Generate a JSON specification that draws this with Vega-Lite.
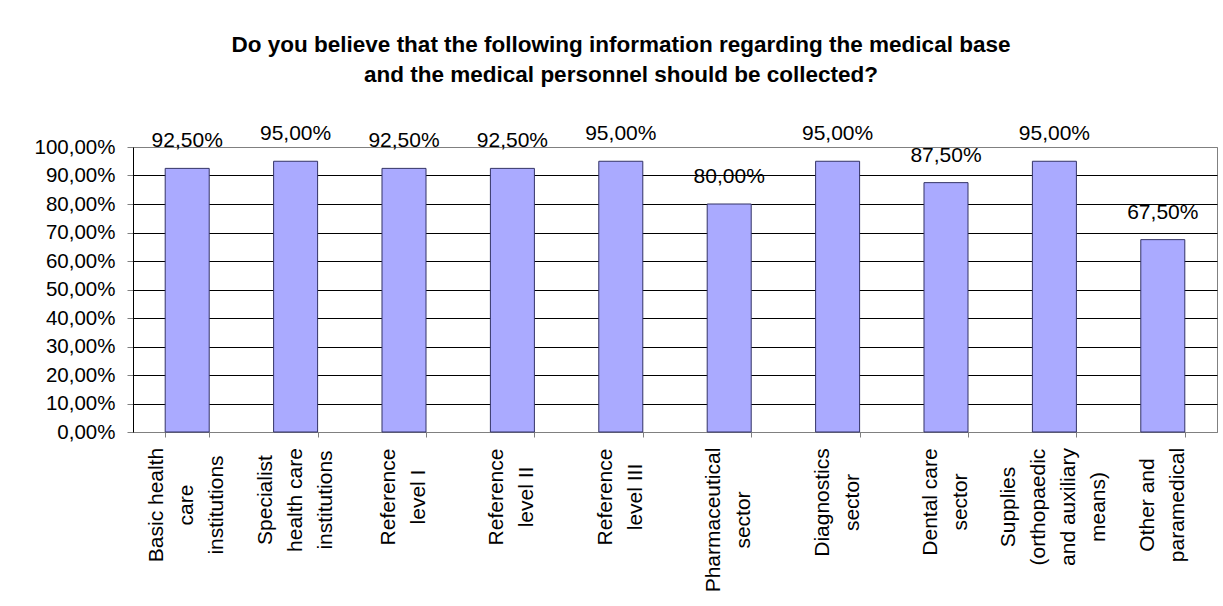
{
  "$schema": "https://vega.github.io/schema/vega-lite/v6.json",
  "width": 1084,
  "height": 285,
  "autosize": {"type": "none"},
  "padding": {"left": 133, "top": 147, "right": 6, "bottom": 174},
  "background": "white",
  "title": {
    "text": ["Do you believe that the following information regarding the medical base", "and the medical personnel should be collected?"],
    "font": "Liberation Sans",
    "fontSize": 22.5,
    "fontWeight": "bold",
    "color": "black",
    "anchor": "middle",
    "lineHeight": 30,
    "dx": -54,
    "offset": 37
  },
  "data": {
    "values": [
      {"category": "Basic health|care|institutions", "value": 0.925},
      {"category": "Specialist|health care|institutions", "value": 0.95},
      {"category": "Reference|level I", "value": 0.925},
      {"category": "Reference|level II", "value": 0.925},
      {"category": "Reference|level III", "value": 0.95},
      {"category": "Pharmaceutical|sector", "value": 0.8},
      {"category": "Diagnostics|sector", "value": 0.95},
      {"category": "Dental care|sector", "value": 0.875},
      {"category": "Supplies|(orthopaedic|and auxiliary|means)", "value": 0.95},
      {"category": "Other and|paramedical", "value": 0.675}
    ]
  },
  "transform": [
    {"calculate": "replace(format(datum.value, '.2%'), '.', ',')", "as": "label"}
  ],
  "encoding": {
    "x": {
      "field": "category",
      "type": "nominal",
      "sort": null,
      "scale": {"paddingInner": 0.594, "paddingOuter": 0.297},
      "axis": {
        "title": null,
        "labels": false,
        "tickBand": "extent",
        "tickSize": 5,
        "tickColor": "#808080",
        "domainColor": "#808080",
        "grid": false
      }
    },
    "y": {
      "field": "value",
      "type": "quantitative",
      "scale": {"domain": [0, 1], "nice": false},
      "axis": {
        "title": null,
        "values": [0, 0.1, 0.2, 0.3, 0.4, 0.5, 0.6, 0.7, 0.8, 0.9, 1],
        "labelExpr": "replace(format(datum.value, '.2%'), '.', ',')",
        "labelFont": "Liberation Sans",
        "labelFontSize": 20.5,
        "labelColor": "black",
        "labelPadding": 12,
        "labelOverlap": false,
        "labelBound": false,
        "tickSize": 6,
        "tickColor": "#808080",
        "domainColor": "black",
        "grid": true,
        "gridOpacity": 1,
        "gridColor": {"condition": {"test": "datum.value >= 1 || datum.value <= 0", "value": "#808080"}, "value": "black"}
      }
    }
  },
  "layer": [
    {
      "mark": {"type": "bar", "fill": "#AAAAFF", "stroke": "#333366", "strokeWidth": 1}
    },
    {
      "mark": {"type": "text", "dy": -21, "baseline": "alphabetic", "align": "center", "font": "Liberation Sans", "fontSize": 21, "color": "black"},
      "encoding": {
        "text": {"field": "label"}
      }
    },
    {
      "mark": {
        "type": "text",
        "angle": 270,
        "align": "center",
        "baseline": "middle",
        "lineBreak": "|",
        "lineHeight": 30,
        "font": "Liberation Sans",
        "fontSize": 21,
        "color": "black",
        "dy": {"expr": "-(length(split(datum.category, '|')) - 1) * 15"},
        "dx": {"expr": "indexof(datum.category, 'Pharmaceutical') == 0 ? -88 : indexof(datum.category, 'Supplies') == 0 ? -75 : (indexof(datum.category, 'Basic') == 0 || indexof(datum.category, 'Other') == 0) ? -73 : indexof(datum.category, 'Diagnostics') == 0 ? -70.5 : indexof(datum.category, 'Dental') == 0 ? -70 : indexof(datum.category, 'Specialist') == 0 ? -68 : -65"}
      },
      "encoding": {
        "y": {"datum": 0, "type": "quantitative"},
        "text": {"field": "category"}
      }
    }
  ],
  "config": {"view": {"stroke": "#808080"}}
}
